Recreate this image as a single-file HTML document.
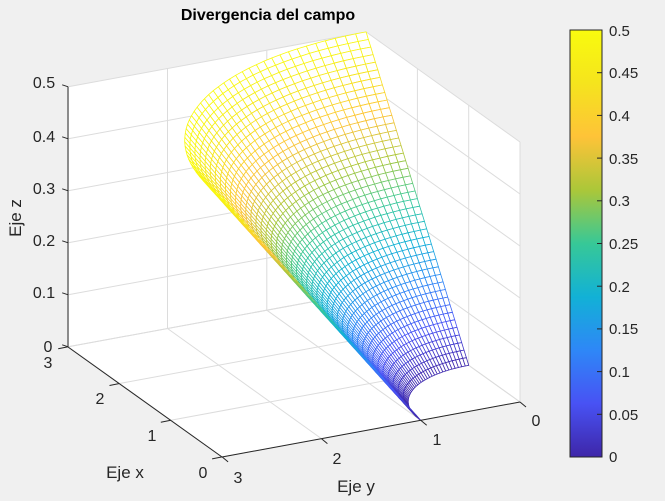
<!DOCTYPE html>
<html><head><meta charset="utf-8"><style>
html,body{margin:0;padding:0;background:#f0f0f0;}
svg{display:block;font-family:"Liberation Sans",sans-serif;}
</style></head><body>
<svg id="s" width="665" height="501" viewBox="0 0 665 501" xmlns="http://www.w3.org/2000/svg">
<defs>
<linearGradient id="pg" x1="0" y1="1" x2="0" y2="0">
<stop offset="0" stop-color="rgb(62,38,168)"/>
<stop offset="0.125" stop-color="rgb(72,82,244)"/>
<stop offset="0.25" stop-color="rgb(46,135,247)"/>
<stop offset="0.375" stop-color="rgb(18,177,214)"/>
<stop offset="0.5" stop-color="rgb(55,200,151)"/>
<stop offset="0.625" stop-color="rgb(171,199,57)"/>
<stop offset="0.75" stop-color="rgb(254,195,56)"/>
<stop offset="0.875" stop-color="rgb(245,228,29)"/>
<stop offset="1" stop-color="rgb(249,251,14)"/>
</linearGradient>
</defs>
<rect width="665" height="501" fill="#f0f0f0"/>
<polygon points="68,347 68,87 366,32 520,142 520,402 222,457" fill="#fff"/>
<g id="grid" stroke="#dcdcdc" stroke-width="1" fill="none"></g>
<g id="surf"></g>
<g stroke="#262626" stroke-width="1" fill="none">
<line x1="68" y1="87" x2="68" y2="347"/>
<line x1="68" y1="347" x2="222" y2="457"/>
<line x1="222" y1="457" x2="520" y2="402"/>
</g>
<g id="ticks" stroke="#262626" stroke-width="1"></g>
<text x="268" y="20" font-size="16" font-weight="bold" text-anchor="middle" fill="#000">Divergencia del campo</text>
<g font-size="16" fill="#262626" text-anchor="middle">
<text x="44" y="88">0.5</text>
<text x="44" y="142">0.4</text>
<text x="44" y="194">0.3</text>
<text x="44" y="246">0.2</text>
<text x="44" y="298">0.1</text>
<text x="48" y="352">0</text>
<text x="48" y="368">3</text>
<text x="100" y="404">2</text>
<text x="152" y="441">1</text>
<text x="203" y="478">0</text>
<text x="238" y="483">3</text>
<text x="337" y="464">2</text>
<text x="437" y="445">1</text>
<text x="536" y="426">0</text>
<text x="125" y="478" font-size="17">Eje x</text>
<text x="356" y="492" font-size="17">Eje y</text>
<text x="0" y="0" font-size="17" transform="translate(21,218) rotate(-90)">Eje z</text>
</g>
<rect x="570" y="30" width="32" height="427" fill="url(#pg)" stroke="#262626" stroke-width="1"/>
<g id="cbt" stroke="#262626" stroke-width="1"></g>
<g font-size="15" fill="#262626">
<text x="609" y="36">0.5</text>
<text x="609" y="78">0.45</text>
<text x="609" y="121">0.4</text>
<text x="609" y="164">0.35</text>
<text x="609" y="206">0.3</text>
<text x="609" y="249">0.25</text>
<text x="609" y="292">0.2</text>
<text x="609" y="334">0.15</text>
<text x="609" y="377">0.1</text>
<text x="609" y="420">0.05</text>
<text x="609" y="462">0</text>
</g>
</svg>
<script>
(function(){
var NS="http://www.w3.org/2000/svg";
function P(x,y,z){return [520-51.3*x-99.3*y, 402-36.7*x+18.3*y-520*z];}
function el(tag,attrs,parent){var e=document.createElementNS(NS,tag);for(var k in attrs)e.setAttribute(k,attrs[k]);parent.appendChild(e);return e;}
var g=document.getElementById('grid');
function L(a,b,p){el('line',{x1:a[0].toFixed(1),y1:a[1].toFixed(1),x2:b[0].toFixed(1),y2:b[1].toFixed(1)},p);}
for(var i=0;i<=5;i++){var z=i*0.1;L(P(3,3,z),P(3,0,z),g);L(P(3,0,z),P(0,0,z),g);}
for(var i=0;i<=3;i++){L(P(3,i,0),P(3,i,0.5),g);L(P(i,0,0),P(i,0,0.5),g);}
for(var i=0;i<=3;i++){L(P(i,0,0),P(i,3,0),g);L(P(0,i,0),P(3,i,0),g);}
var C=[[62,38,168],[72,82,244],[46,135,247],[18,177,214],[55,200,151],[171,199,57],[254,195,56],[245,228,29],[249,251,14]];
function col(t){t=Math.max(0,Math.min(1,t))*8;var i=Math.min(7,Math.floor(t)),f=t-i;var a=C[i],b=C[i+1];
return 'rgb('+Math.round(a[0]+(b[0]-a[0])*f)+','+Math.round(a[1]+(b[1]-a[1])*f)+','+Math.round(a[2]+(b[2]-a[2])*f)+')';}
var NR=44,NT=44,quads=[];
var ce=Math.cos(21.5*Math.PI/180),se=Math.sin(21.5*Math.PI/180);
function V(i,j){var r=1+2*i/NR,t=(Math.PI/2)*j/NT;return [r*Math.cos(t),r*Math.sin(t),(r-1)/4];}
for(var i=0;i<NR;i++)for(var j=0;j<NT;j++){
var v=[V(i,j),V(i+1,j),V(i+1,j+1),V(i,j+1)];
var cx=0,cy=0,cz=0;v.forEach(function(p){cx+=p[0]/4;cy+=p[1]/4;cz+=p[2]/4;});
var near=ce*(-36.7*cx+18.3*cy)/41+se*5*cz;
quads.push({v:v,n:near,z:cz});}
quads.sort(function(a,b){return a.n-b.n;});
var s=document.getElementById('surf');
quads.forEach(function(q){var pts=q.v.map(function(p){var s2=P(p[0],p[1],p[2]);return s2[0].toFixed(1)+','+s2[1].toFixed(1);}).join(' ');
el('polygon',{points:pts,fill:'#fff',stroke:col(q.z/0.5),'stroke-width':'0.8','stroke-linejoin':'round'},s);});
var tk=document.getElementById('ticks');
for(var i=0;i<=5;i++){var p=P(3,3,i*0.1);L(p,[p[0]-6,p[1]-2],tk);}
for(var i=0;i<=3;i++){var p=P(i,3,0);L(p,[p[0]-10,p[1]+2],tk);var q=P(0,i,0);L(q,[q[0]+6,q[1]+5],tk);}
var cb=document.getElementById('cbt');
for(var i=1;i<10;i++){var y=30+427*i/10;L([597,y],[602,y],cb);}
})();
</script>
</body></html>
